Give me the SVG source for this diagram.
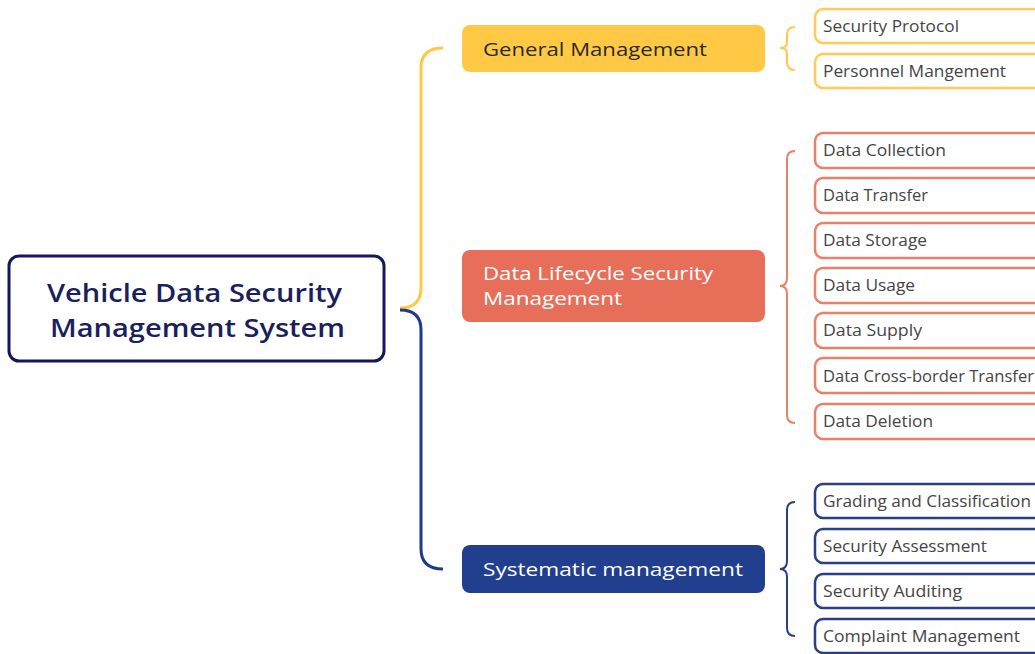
<svg xmlns="http://www.w3.org/2000/svg" width="1035" height="654" viewBox="0 0 1035 654">
<style>
text{font-family:"Open Sans","Liberation Sans",sans-serif}
.leaf{font-size:16px;fill:#454545}
.mid{font-size:19px}
.ly{fill:#fff;stroke:#FFCA55;stroke-width:2.5}
.lo{fill:#fff;stroke:#E8806A;stroke-width:2.5}
.ln{fill:#fff;stroke:#2B3E86;stroke-width:2.5}
.br{fill:none;stroke-width:2}
</style>
<rect width="1035" height="654" fill="#fff"/>
<g id="connectors">
<path d="M400,308 Q421,308 421,288 V68 Q421,48 443,48" fill="none" stroke="#FFC845" stroke-width="3"/>
<path d="M400,310 Q421,310 421,330 V549 Q421,569 443,569" fill="none" stroke="#1E3A8A" stroke-width="3"/>
<path class="br" stroke="#FFC845" d="M795,27 Q787,27 787,35 V42 Q787,48 780,48 Q787,48 787,54 V62 Q787,70 795,70"/>
<path class="br" stroke="#E8806A" d="M795,151 Q787,151 787,159 V278 Q787,286 780,286 Q787,286 787,294 V415 Q787,423 795,423"/>
<path class="br" stroke="#2B3E86" d="M795,502 Q787,502 787,510 V561 Q787,569 780,569 Q787,569 787,577 V628 Q787,636 795,636"/>
</g>
<g id="root">
<rect x="9" y="256" width="375" height="105" rx="10" fill="#fff" stroke="#12195A" stroke-width="3"/>
<text x="47" y="302" font-size="25" font-weight="600" fill="#1A1F5E" textLength="295" lengthAdjust="spacingAndGlyphs">Vehicle Data Security</text>
<text x="50" y="337" font-size="25" font-weight="600" fill="#1A1F5E" textLength="295" lengthAdjust="spacingAndGlyphs">Management System</text>
</g>
<g id="general">
<rect x="462" y="25" width="303" height="47" rx="8" fill="#FFC845"/>
<text class="mid" x="483" y="56" fill="#2a2a2a" textLength="224" lengthAdjust="spacingAndGlyphs">General Management</text>
</g>
<g id="lifecycle">
<rect x="462" y="250" width="303" height="72" rx="8" fill="#E76F5A"/>
<text class="mid" x="483" y="280" fill="#fff" textLength="230" lengthAdjust="spacingAndGlyphs">Data Lifecycle Security</text>
<text class="mid" x="483" y="305" fill="#fff" textLength="139" lengthAdjust="spacingAndGlyphs">Management</text>
</g>
<g id="systematic">
<rect x="462" y="545" width="303" height="48" rx="8" fill="#213F8E"/>
<text class="mid" x="483" y="576" fill="#fff" textLength="260" lengthAdjust="spacingAndGlyphs">Systematic management</text>
</g>
<g id="leaf-security-protocol"><rect class="ly" x="815" y="9" width="240" height="34" rx="8"/><text class="leaf" x="823" y="32" textLength="136" lengthAdjust="spacingAndGlyphs">Security Protocol</text></g>
<g id="leaf-personnel"><rect class="ly" x="815" y="54" width="240" height="34" rx="8"/><text class="leaf" x="823" y="77" textLength="183" lengthAdjust="spacingAndGlyphs">Personnel Mangement</text></g>
<g id="leaf-collection"><rect class="lo" x="815" y="133" width="240" height="35" rx="8"/><text class="leaf" x="823" y="156" textLength="123" lengthAdjust="spacingAndGlyphs">Data Collection</text></g>
<g id="leaf-transfer"><rect class="lo" x="815" y="178" width="240" height="35" rx="8"/><text class="leaf" x="823" y="201" textLength="105" lengthAdjust="spacingAndGlyphs">Data Transfer</text></g>
<g id="leaf-storage"><rect class="lo" x="815" y="223" width="240" height="35" rx="8"/><text class="leaf" x="823" y="246" textLength="104" lengthAdjust="spacingAndGlyphs">Data Storage</text></g>
<g id="leaf-usage"><rect class="lo" x="815" y="268" width="240" height="35" rx="8"/><text class="leaf" x="823" y="291" textLength="92" lengthAdjust="spacingAndGlyphs">Data Usage</text></g>
<g id="leaf-supply"><rect class="lo" x="815" y="313" width="240" height="35" rx="8"/><text class="leaf" x="823" y="336" textLength="99" lengthAdjust="spacingAndGlyphs">Data Supply</text></g>
<g id="leaf-cross-border"><rect class="lo" x="815" y="358" width="240" height="35" rx="8"/><text class="leaf" x="823" y="382" textLength="211" lengthAdjust="spacingAndGlyphs">Data Cross-border Transfer</text></g>
<g id="leaf-deletion"><rect class="lo" x="815" y="404" width="240" height="35" rx="8"/><text class="leaf" x="823" y="427" textLength="110" lengthAdjust="spacingAndGlyphs">Data Deletion</text></g>
<g id="leaf-grading"><rect class="ln" x="815" y="484" width="240" height="34" rx="8"/><text class="leaf" x="823" y="507" textLength="208" lengthAdjust="spacingAndGlyphs">Grading and Classification</text></g>
<g id="leaf-assessment"><rect class="ln" x="815" y="529" width="240" height="34" rx="8"/><text class="leaf" x="823" y="552" textLength="164" lengthAdjust="spacingAndGlyphs">Security Assessment</text></g>
<g id="leaf-auditing"><rect class="ln" x="815" y="574" width="240" height="34" rx="8"/><text class="leaf" x="823" y="597" textLength="139" lengthAdjust="spacingAndGlyphs">Security Auditing</text></g>
<g id="leaf-complaint"><rect class="ln" x="815" y="619" width="240" height="34" rx="8"/><text class="leaf" x="823" y="642" textLength="197" lengthAdjust="spacingAndGlyphs">Complaint Management</text></g>
</svg>
